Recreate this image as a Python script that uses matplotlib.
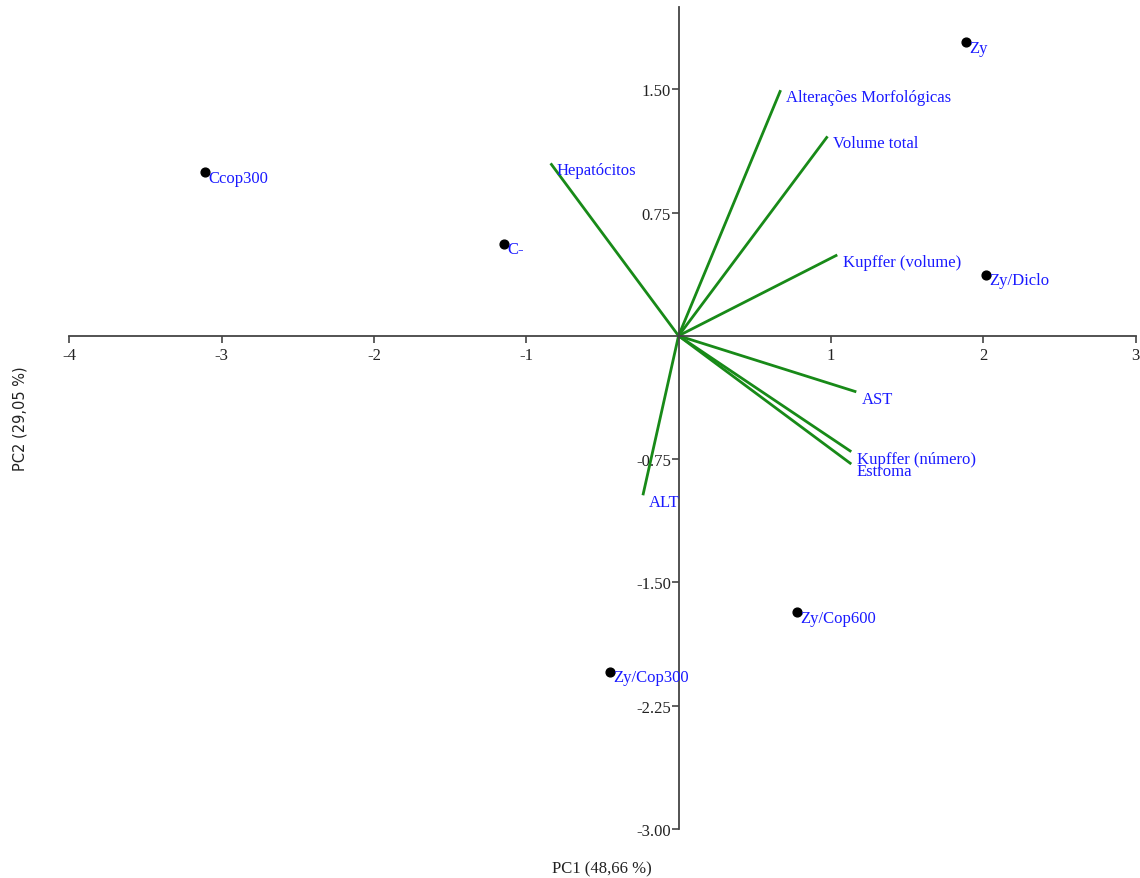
import numpy as np
import matplotlib.pyplot as plt

# PCA scores (samples)
sample_names = ['Zy', 'Ccop300', 'C-', 'Zy/Diclo', 'Zy/Cop600', 'Zy/Cop300']
sample_pc1 = [1.885, -3.11, -1.149, 2.02, 0.775, -0.453]
sample_pc2 = [1.787, 0.994, 0.561, 0.372, -1.683, -2.043]

# loadings (variables)
var_names = ['Alterações Morfológicas', 'Volume total', 'Hepatócitos', 'Kupffer (volume)',
             'AST', 'Kupffer (número)', 'Estroma', 'ALT']
var_pc1 = [0.67, 0.978, -0.84, 1.042, 1.167, 1.134, 1.134, -0.234]
var_pc2 = [1.494, 1.213, 1.049, 0.492, -0.341, -0.705, -0.780, -0.970]

xticks = [-4, -3, -2, -1, 1, 2, 3]
yticks = [1.5, 0.75, -0.75, -1.5, -2.25, -3.0]

plt.rcParams['font.family'] = ['Liberation Serif', 'DejaVu Serif']

fig = plt.figure(figsize=(11.4, 8.79), dpi=100)
ax = fig.add_axes([69.3 / 1140, 49 / 879, 1066.2 / 1140, 822 / 879])
ax.set_xlim(-4, 3)
ax.set_ylim(-3, 2)

axis_col = '#444444'
for side in ['top', 'right']:
    ax.spines[side].set_visible(False)
ax.spines['left'].set_position(('data', 0))
ax.spines['bottom'].set_position(('data', 0))
ax.spines['left'].set_color(axis_col)
ax.spines['bottom'].set_color(axis_col)
ax.spines['left'].set_linewidth(1.3)
ax.spines['bottom'].set_linewidth(1.3)

ax.set_xticks(xticks)
ax.set_xticklabels([str(t) for t in xticks])
ax.set_yticks(yticks)
ax.set_yticklabels([f'{t:.2f}' for t in yticks])
ax.tick_params(axis='both', direction='out', length=5, width=1.2, color=axis_col,
               labelsize=12, labelcolor='#222222')
ax.tick_params(axis='x', pad=3)
ax.tick_params(axis='y', pad=0.5)

# loading vectors
for name, x, y in zip(var_names, var_pc1, var_pc2):
    ax.plot([0, x], [0, y], color='#188a18', lw=2, solid_capstyle='butt', zorder=2)
    ax.annotate(name, (x, y), xytext=(4, -5), textcoords='offset points',
                color='#1a1aff', fontsize=12, ha='left', va='center', zorder=4)

# sample scores
ax.scatter(sample_pc1, sample_pc2, s=40, color='black', zorder=3)
for name, x, y in zip(sample_names, sample_pc1, sample_pc2):
    ax.annotate(name, (x, y), xytext=(2.5, -4), textcoords='offset points',
                color='#1a1aff', fontsize=12, ha='left', va='center', zorder=4)

fig.text(602 / 1140, 1 - 869 / 879, 'PC1 (48,66 %)', ha='center', va='center',
         fontsize=12, color='#222222')
fig.text(20 / 1140, 1 - 419 / 879, 'PC2 (29,05 %)', ha='center', va='center',
         rotation=90, fontsize=10.5, color='#222222', family=['DejaVu Sans'])

fig.savefig('out.png', dpi=100)
